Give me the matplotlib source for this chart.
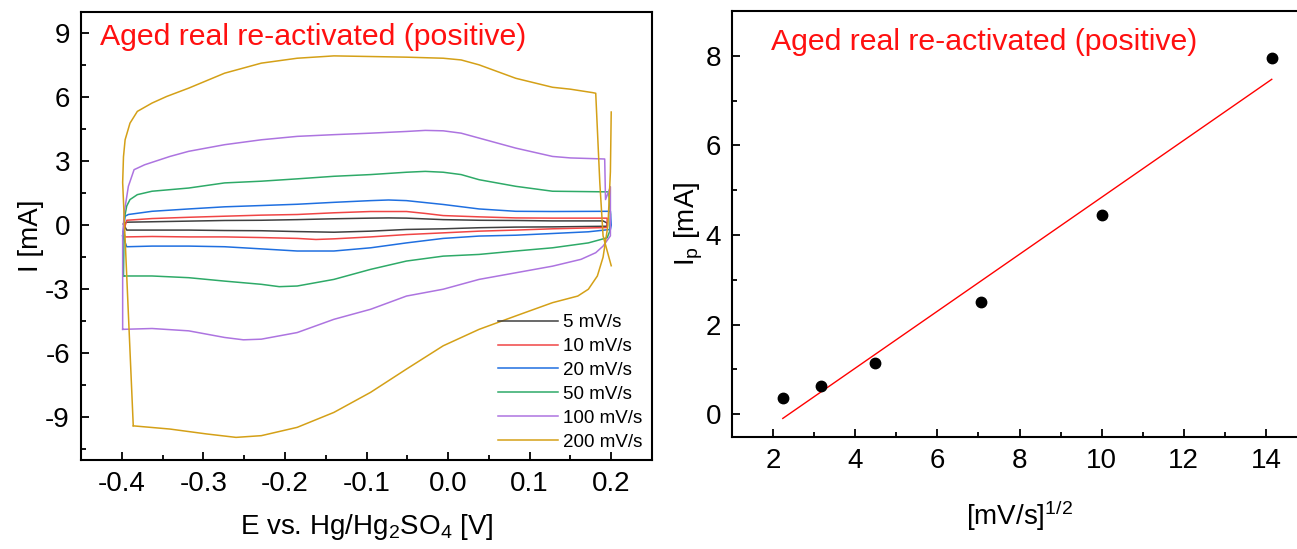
import numpy as np
import matplotlib
matplotlib.use('Agg')
import matplotlib.pyplot as plt

plt.rcParams['font.family'] = ['Liberation Sans', 'DejaVu Sans']
plt.rcParams['mathtext.fontset'] = 'custom'
plt.rcParams['mathtext.rm'] = 'Liberation Sans'
plt.rcParams['mathtext.default'] = 'regular'

# CV loops: potential [V] and current [mA]
e_5 = [-0.398, -0.394, -0.363, -0.318, -0.274, -0.229, -0.185, -0.14, -0.095, -0.073, -0.051, -0.006, 0.038, 0.083, 0.128, 0.19, 0.195,
       0.195, 0.128, 0.083, 0.038, -0.006, -0.051, -0.095, -0.14, -0.185, -0.229, -0.274, -0.318, -0.363, -0.394, -0.398]
i_5 = [0.05, 0.14, 0.16, 0.19, 0.22, 0.23, 0.26, 0.30, 0.33, 0.34, 0.33, 0.26, 0.23, 0.22, 0.20, 0.20, 0.10,
       -0.05, -0.08, -0.09, -0.12, -0.17, -0.20, -0.28, -0.33, -0.30, -0.26, -0.25, -0.23, -0.23, -0.23, 0.05]

e_10 = [-0.398, -0.394, -0.363, -0.318, -0.274, -0.229, -0.185, -0.14, -0.095, -0.051, -0.028, -0.006, 0.038, 0.083, 0.128, 0.195,
        0.195, 0.128, 0.083, 0.038, -0.006, -0.051, -0.095, -0.14, -0.162, -0.185, -0.229, -0.274, -0.318, -0.363, -0.396, -0.398]
i_10 = [-0.30, 0.23, 0.31, 0.37, 0.42, 0.47, 0.50, 0.58, 0.64, 0.64, 0.55, 0.45, 0.39, 0.34, 0.33, 0.33,
        -0.11, -0.17, -0.23, -0.28, -0.36, -0.44, -0.55, -0.64, -0.67, -0.62, -0.58, -0.55, -0.55, -0.53, -0.55, -0.30]

e_20 = [-0.399, -0.396, -0.392, -0.363, -0.318, -0.274, -0.229, -0.185, -0.14, -0.095, -0.073, -0.051, -0.006, 0.038, 0.083, 0.128, 0.199,
        0.200, 0.199, 0.172, 0.128, 0.083, 0.038, -0.006, -0.051, -0.095, -0.14, -0.185, -0.229, -0.274, -0.318, -0.363, -0.394, -0.399]
i_20 = [-0.50, 0.42, 0.50, 0.65, 0.76, 0.86, 0.92, 0.98, 1.07, 1.15, 1.18, 1.15, 0.97, 0.76, 0.65, 0.64, 0.65,
        0.00, -0.20, -0.31, -0.39, -0.47, -0.51, -0.62, -0.83, -1.06, -1.21, -1.21, -1.11, -1.01, -0.98, -0.98, -1.01, -0.50]

e_50 = [-0.398, -0.397, -0.394, -0.39, -0.381, -0.363, -0.318, -0.274, -0.229, -0.185, -0.14, -0.095, -0.051, -0.028, -0.006, 0.016, 0.038, 0.083, 0.128, 0.197, 0.199, 0.198,
        0.195, 0.172, 0.128, 0.083, 0.038, -0.006, -0.051, -0.095, -0.14, -0.185, -0.207, -0.229, -0.274, -0.318, -0.363, -0.398]
i_50 = [-2.38, 0.30, 0.90, 1.20, 1.43, 1.59, 1.74, 1.98, 2.06, 2.17, 2.29, 2.37, 2.48, 2.52, 2.48, 2.37, 2.13, 1.82, 1.59, 1.56, 0.50, -0.30,
        -0.59, -0.83, -1.06, -1.21, -1.37, -1.45, -1.68, -2.07, -2.54, -2.85, -2.88, -2.77, -2.62, -2.46, -2.38, -2.38]

e_100 = [-0.399, -0.399, -0.397, -0.392, -0.385, -0.372, -0.341, -0.318, -0.274, -0.229, -0.185, -0.14, -0.095, -0.051, -0.028, -0.006, 0.016, 0.038, 0.083, 0.128, 0.15, 0.192, 0.193, 0.199, 0.199,
         0.19, 0.181, 0.163, 0.128, 0.083, 0.038, -0.006, -0.051, -0.095, -0.14, -0.185, -0.229, -0.251, -0.274, -0.318, -0.363, -0.399]
i_100 = [-4.88, -0.50, 0.60, 1.82, 2.60, 2.83, 3.22, 3.46, 3.77, 4.00, 4.16, 4.24, 4.31, 4.39, 4.44, 4.42, 4.31, 4.08, 3.61, 3.22, 3.15, 3.10, 1.20, 1.80, -0.50,
         -0.98, -1.29, -1.60, -1.92, -2.23, -2.54, -3.00, -3.32, -3.94, -4.41, -5.03, -5.34, -5.37, -5.26, -4.95, -4.84, -4.88]

# 200 mV/s is drawn as two pieces (anodic sweep, then cathodic sweep)
e_200a = [-0.386, -0.399, -0.398, -0.396, -0.39, -0.381, -0.363, -0.345, -0.318, -0.274, -0.229, -0.185, -0.14, -0.095, -0.051, -0.006, 0.016, 0.038, 0.083, 0.128, 0.15, 0.177, 0.181, 0.186, 0.19, 0.2]
i_200a = [-9.40, 2.00, 3.20, 4.00, 4.78, 5.33, 5.72, 6.03, 6.42, 7.12, 7.59, 7.82, 7.93, 7.90, 7.87, 7.82, 7.74, 7.51, 6.88, 6.46, 6.37, 6.21, 6.18, 2.00, -0.50, -1.90]
e_200c = [0.2, 0.199, 0.196, 0.19, 0.183, 0.172, 0.159, 0.128, 0.083, 0.038, -0.006, -0.051, -0.095, -0.14, -0.185, -0.229, -0.26, -0.296, -0.341, -0.386]
i_200c = [5.30, 2.50, 0.00, -1.50, -2.38, -3.00, -3.32, -3.63, -4.25, -4.88, -5.65, -6.74, -7.83, -8.77, -9.47, -9.86, -9.94, -9.78, -9.55, -9.40]

# peak current vs square root of scan rate
scan_rates = [5, 10, 20, 50, 100, 200]
ip = [0.36, 0.62, 1.15, 2.50, 4.45, 7.95]

colors = ['#404040', '#f04545', '#1f6fe0', '#2eaa68', '#ad74e0', '#d4a017']
labels = ['5 mV/s', '10 mV/s', '20 mV/s', '50 mV/s', '100 mV/s', '200 mV/s']
title = 'Aged real re-activated (positive)'

fig = plt.figure(figsize=(12.97, 5.49), dpi=100)
ax1 = fig.add_axes([0.0625, 0.1621, 0.4402, 0.8166])
ax2 = fig.add_axes([0.5644, 0.2046, 0.4433, 0.7754])

curves = [(e_5, i_5), (e_10, i_10), (e_20, i_20), (e_50, i_50), (e_100, i_100), (e_200a, i_200a)]
for (e, i), c, l in zip(curves, colors, labels):
    ax1.plot(e, i, '-', color=c, lw=1.1, label=l)
ax1.plot(e_200c, i_200c, '-', color=colors[5], lw=1.1)

ax1.set_xlim(-0.45, 0.25)
ax1.set_ylim(-11, 10)
ax1.set_xticks([-0.4, -0.3, -0.2, -0.1, 0.0, 0.1, 0.2])
ax1.set_xticklabels(['-0.4', '-0.3', '-0.2', '-0.1', '0.0', '0.1', '0.2'])
ax1.set_xticks(np.arange(-0.45, 0.26, 0.05), minor=True)
ax1.set_yticks([-9, -6, -3, 0, 3, 6, 9])
ax1.set_yticklabels(['-9', '-6', '-3', '0', '3', '6', '9'])
ax1.set_yticks(np.arange(-10.5, 10, 1.5), minor=True)
ax1.set_xlabel(r'E vs. Hg/Hg$_2$SO$_4$ [V]', fontsize=20, labelpad=11)
ax1.set_ylabel('I [mA]', fontsize=20, labelpad=1)
ax1.text(0.033, 0.975, title, transform=ax1.transAxes, color='#ff1010',
         fontsize=21.8, va='top', ha='left')
leg = ax1.legend(loc='lower right', bbox_to_anchor=(1.0, 0.0), frameon=False,
                 fontsize=13.5, handlelength=3.2, labelspacing=0.36,
                 borderaxespad=0.3, handletextpad=0.3, borderpad=0.2)

sq = np.sqrt(scan_rates)
slope, icpt = np.polyfit(sq, ip, 1)
ax2.plot(sq, slope * sq + icpt, '-', color='red', lw=1.0)
ax2.plot(sq, ip, 'o', color='black', ms=7.5)
ax2.set_xlim(1, 15)
ax2.set_ylim(-0.5, 9)
ax2.set_xticks([2, 4, 6, 8, 10, 12, 14])
ax2.set_xticks(np.arange(1, 15.1, 1), minor=True)
ax2.set_yticks([0, 2, 4, 6, 8])
ax2.set_yticks(np.arange(0, 9, 1), minor=True)
ax2.set_xlabel(r'[mV/s]$^{1/2}$', fontsize=20, labelpad=18)
ax2.set_ylabel(r'I$_p$ [mA]', fontsize=20, labelpad=0)
ax2.text(0.068, 0.96, title, transform=ax2.transAxes, color='#ff1010',
         fontsize=21.8, va='top', ha='left')

for ax in (ax1, ax2):
    for s in ax.spines.values():
        s.set_linewidth(1.5)
    ax.tick_params(which='both', direction='in', top=False, right=False, labelsize=20, width=1.3)
    ax.tick_params(which='major', length=6, pad=8)
    ax.tick_params(which='minor', length=3.5)

fig.savefig('out.png', dpi=100)
